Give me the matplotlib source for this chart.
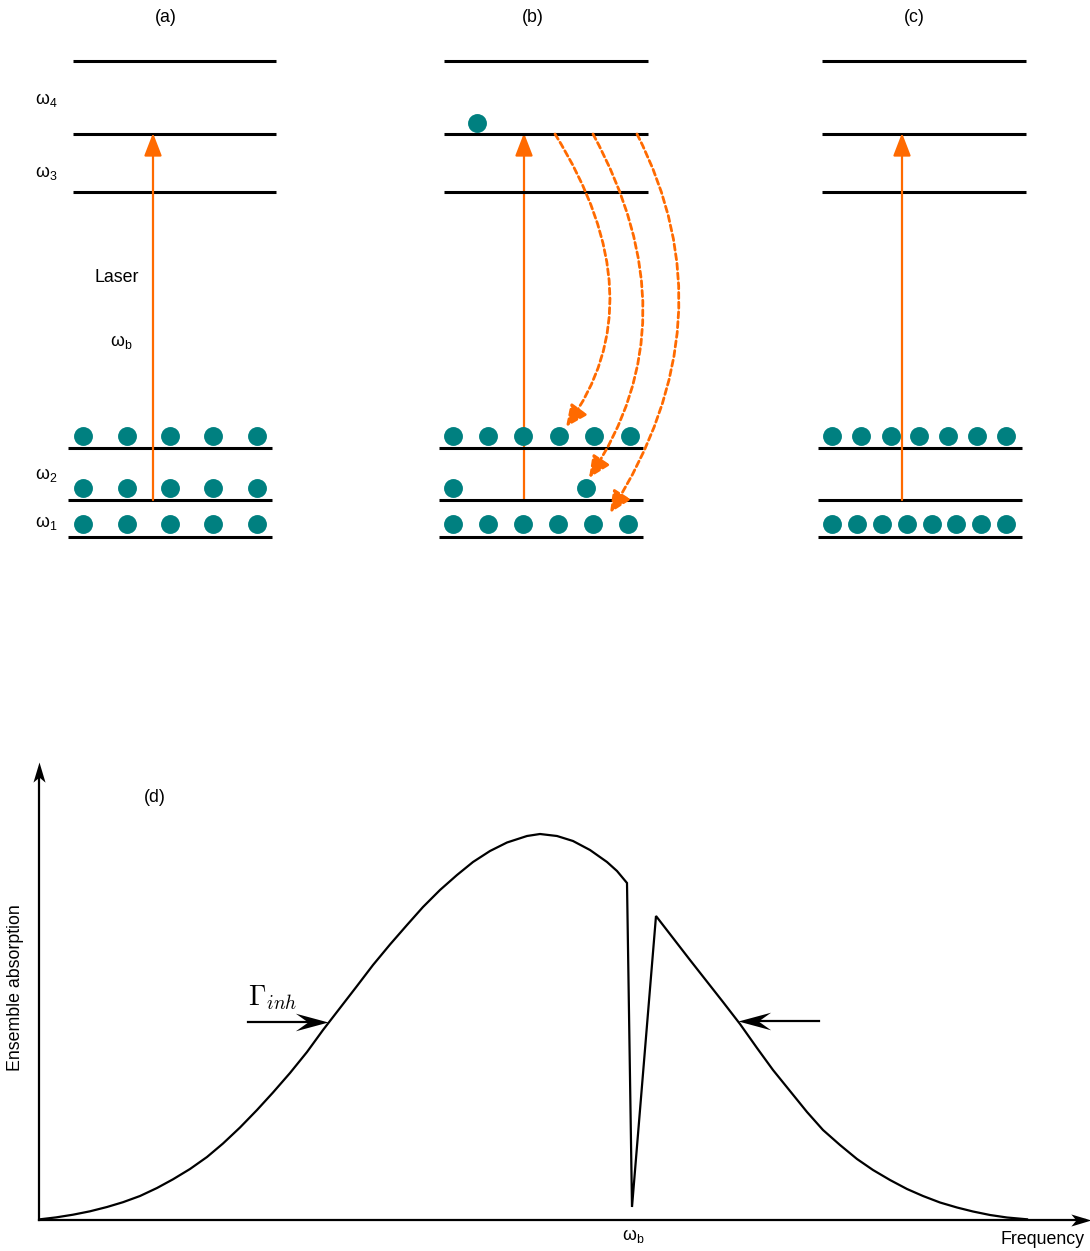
import matplotlib
matplotlib.use("Agg")
import matplotlib.pyplot as plt
from matplotlib.patches import FancyArrowPatch
from matplotlib.path import Path
from matplotlib.markers import MarkerStyle
from matplotlib.transforms import Affine2D

plt.rcParams['font.family'] = ['Liberation Sans', 'DejaVu Sans']

# ---------------- data ----------------
panel_labels = ['(a)', '(b)', '(c)']
level_labels = [r'$\mathregular{\omega_4}$', r'$\mathregular{\omega_3}$',
                r'$\mathregular{\omega_2}$', r'$\mathregular{\omega_1}$']

# dots (populations) per panel: x positions per row
dots_a = {'g3': [83, 127, 170, 213, 257], 'g2': [83, 127, 170, 213, 257], 'g1': [83, 127, 170, 213, 257]}
dots_b = {'g3': [453, 488, 523, 559, 594, 630], 'g2': [453, 586], 'g1': [453, 488, 523, 558, 593, 628],
          'e2': [477]}
dots_c = {'g3': [832, 861, 891, 919, 948, 977, 1006], 'g2': [],
          'g1': [832, 857, 882, 907, 932, 956, 981, 1006]}

# spectral curve (frequency, absorption), arbitrary units
frequency = [1, 17, 34, 51, 68, 84, 101, 118, 134, 151, 168, 184, 201, 218, 234, 251, 268, 284,
             301, 318, 334, 351, 368, 384, 401, 418, 434, 451, 468, 488, 501, 518, 534, 551,
             568, 578, 588,
             593,
             617, 651, 684, 701, 718, 734, 751, 768, 784, 801, 818, 834, 851, 868, 884, 901,
             918, 934, 951, 968, 988]
absorption = [0.7, 2.6, 5.3, 8.7, 13, 17.8, 24, 32, 40.7, 51, 63, 76.5, 92.5, 110, 127.5, 147, 168, 190,
              212, 234, 255, 275.5, 295, 313, 330, 345, 358, 369, 377.5, 384, 386, 384, 379, 370,
              358, 349, 337,
              13,
              304, 260, 218, 196, 172, 150, 129, 108, 90, 75, 61, 50, 40, 31, 24, 17.5,
              12.5, 8.5, 5, 2.5, 0.7]

# ---------------- styling ----------------
TEAL = '#008080'
ORANGE = '#ff6a00'
FS = 12.8

fig = plt.figure(figsize=(10.9, 12.51), dpi=100)
ax = fig.add_axes([0, 0, 1, 1])
ax.set_xlim(0, 1090)
ax.set_ylim(1251, 0)
ax.axis('off')

# level geometry
upper_y = [61, 134, 192]
lower_y = {'g3': 448, 'g2': 500, 'g1': 537}
dot_y = {'g3': 436, 'g2': 488, 'g1': 524, 'e2': 123}
panel_upper_x = [(73, 276), (444, 648), (822, 1026)]
panel_lower_x = [(68, 272), (439, 643), (818, 1022)]
panel_label_x = [166, 533, 914]
laser_x = [153, 524, 902]

for p in range(3):
    ux0, ux1 = panel_upper_x[p]
    lx0, lx1 = panel_lower_x[p]
    for y in upper_y:
        ax.plot([ux0, ux1], [y, y], color='black', lw=2.2, solid_capstyle='butt', zorder=2)
    for y in lower_y.values():
        ax.plot([lx0, lx1], [y, y], color='black', lw=2.2, solid_capstyle='butt', zorder=2)
    ax.text(panel_label_x[p], 18, panel_labels[p], ha='center', va='center', fontsize=FS)
    arr = FancyArrowPatch((laser_x[p], 500), (laser_x[p], 133),
                          arrowstyle='-|>,head_length=14,head_width=5.4',
                          mutation_scale=1, color=ORANGE, lw=1.6, shrinkA=0, shrinkB=0,
                          zorder=2.5 if p != 1 else 1.5)
    ax.add_patch(arr)

for lab, y in zip(level_labels, [100, 173, 475, 523]):
    ax.text(46, y, lab, ha='center', va='center', fontsize=FS)
ax.text(117, 278, 'Laser', ha='center', va='center', fontsize=FS)
ax.text(121, 342, r'$\mathregular{\omega_b}$', ha='center', va='center', fontsize=FS)

for dots in (dots_a, dots_b, dots_c):
    for row, xs in dots.items():
        if xs:
            ax.scatter(xs, [dot_y[row]] * len(xs), s=185, color=TEAL, linewidths=0, zorder=3)

# dashed decay arrows in (b)
decays = [((555, 134), (658, 300), (566, 427)),
          ((593, 134), (694, 320), (589, 478)),
          ((637, 134), (732, 320), (610, 513))]
for p0, p1, p2 in decays:
    path = Path([p0, p1, p2], [Path.MOVETO, Path.CURVE3, Path.CURVE3])
    fa = FancyArrowPatch(path=path, arrowstyle='-|>,head_length=13,head_width=6',
                         mutation_scale=1, color=ORANGE, lw=2.0,
                         linestyle=(0, (2.2, 1.3)), zorder=2.6)
    ax.add_patch(fa)

# ---------------- bottom panel (d) ----------------
W, H = 1090, 1251
x0p, y0p, x1p, y1p = 39, 1220, 1090, 762
bx = fig.add_axes([x0p / W, (H - y0p) / H, (x1p - x0p) / W, (y0p - y1p) / H])
bx.set_xlim(0, x1p - x0p)
bx.set_ylim(0, y0p - y1p)
bx.axis('off')

bx.plot(frequency, absorption, color='black', lw=1.6, solid_joinstyle='miter', zorder=3)


def stealth(w=0.27, notch=0.62):
    verts = [(0, 0), (-1, w), (-notch, 0), (-1, -w), (0, 0)]
    codes = [Path.MOVETO, Path.LINETO, Path.LINETO, Path.LINETO, Path.CLOSEPOLY]
    return Path(verts, codes)


def head(axx, x, y, angle, size, w=0.27, notch=0.62):
    m = MarkerStyle(stealth(w, notch), transform=Affine2D().rotate_deg(angle))
    axx.plot([x], [y], marker=m, markersize=size, color='black', markeredgewidth=0,
             clip_on=False, zorder=4)


bx.plot([0, 0], [0, 448], color='black', lw=1.6, clip_on=False)
bx.plot([0, 1046], [0, 0], color='black', lw=1.6, clip_on=False)
head(bx, 0, 458, 90, 29, w=0.3, notch=0.75)
head(bx, 1052, 0, 0, 29, w=0.3, notch=0.75)

bx.plot([209, 272], [198, 198], color='black', lw=1.6)
head(bx, 289, 198, 0, 47)
bx.plot([780, 716], [199, 199], color='black', lw=1.6)
head(bx, 699, 199, 180, 47)

ax.text(248, 1005, r'$\Gamma_{inh}$', ha='left', va='baseline', fontsize=20, math_fontfamily='cm')
ax.text(155, 797, '(d)', ha='center', va='center', fontsize=FS)
ax.text(633, 1236, r'$\mathregular{\omega_b}$', ha='center', va='center', fontsize=FS)
ax.text(1084, 1240, 'Frequency', ha='right', va='center', fontsize=FS)
ax.text(16, 988, 'Ensemble absorption', ha='center', va='center', rotation=90, fontsize=FS)

fig.savefig('out.png', dpi=100)
